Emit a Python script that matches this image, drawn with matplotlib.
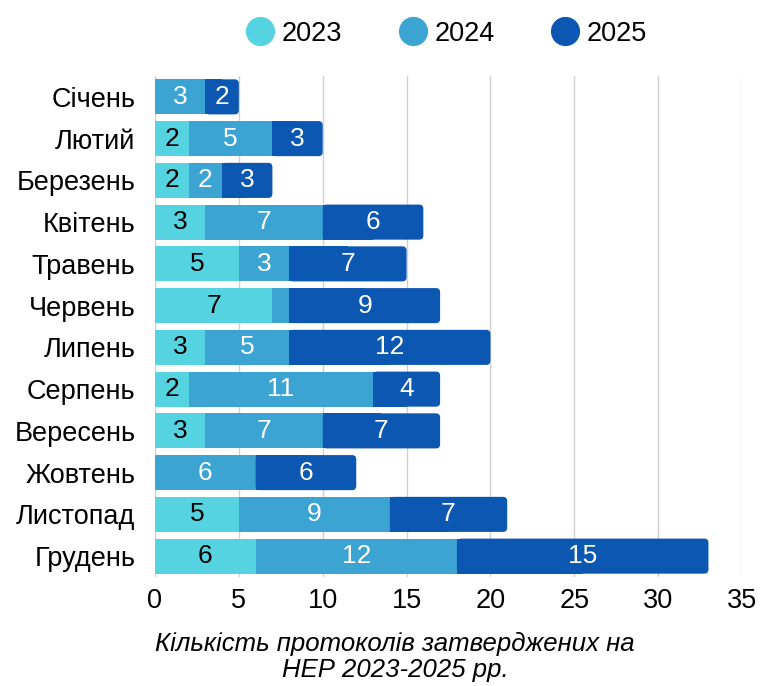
import matplotlib.pyplot as plt
from matplotlib.patches import FancyBboxPatch, Rectangle

months = ["Січень", "Лютий", "Березень", "Квітень", "Травень", "Червень",
          "Липень", "Серпень", "Вересень", "Жовтень", "Листопад", "Грудень"]
v2023 = [0, 2, 2, 3, 5, 7, 3, 2, 3, 0, 5, 6]
v2024 = [3, 5, 2, 7, 3, 1, 5, 11, 7, 6, 9, 12]
v2025 = [2, 3, 3, 6, 7, 9, 12, 4, 7, 6, 7, 15]
years = ["2023", "2024", "2025"]
colors = ["#56D3E0", "#3BA4D2", "#0C57B2"]
text_colors = ["black", "white", "white"]

plt.rcParams['font.family'] = ['Liberation Sans', 'DejaVu Sans']

fig = plt.figure(figsize=(7.6, 6.86), dpi=100)
ax = fig.add_axes([155 / 760, 1 - 577 / 686, (742 - 155) / 760, (577 - 76) / 686])

n = len(months)
ys = list(range(n))
h = 0.84
series = [v2023, v2024, v2025]

for i in range(n):
    left = 0
    for k, vals in enumerate(series):
        w = vals[i]
        if w == 0:
            continue
        if k == 2:
            # rounded right end
            r = 0.25
            ax.add_patch(FancyBboxPatch((left, i - h / 2), w, h,
                                        boxstyle="round,pad=0,rounding_size=%g" % r,
                                        mutation_aspect=0.40, fc=colors[k], ec="none", zorder=3))
            ax.add_patch(Rectangle((left, i - h / 2), w / 2, h, fc=colors[k], ec="none", zorder=3))
        else:
            ax.barh(i, w, left=left, height=h, color=colors[k], zorder=3)
        if w >= 2:
            ax.text(left + w / 2, i, str(w), ha="center", va="center",
                    color=text_colors[k], fontsize=19, zorder=4)
        left += w

ax.set_xlim(0, 35)
ax.set_ylim(n - 0.5, -0.5)
ax.set_yticks(ys)
ax.set_yticklabels(months, fontsize=19.5)
ax.set_xticks(range(0, 36, 5))
ax.tick_params(axis="x", labelsize=19.5, length=0, pad=8)
ax.tick_params(axis="y", length=0, pad=14)
for s in ax.spines.values():
    s.set_visible(False)
ax.grid(axis="x", color="#D0D0D0", lw=1, zorder=0)
ax.axvline(0, color="#B0B0B0", lw=1.2, zorder=1)

handles = [plt.Line2D([], [], marker="o", ls="none", markersize=20, color=c) for c in colors]
fig.legend(handles, years, loc="upper center", bbox_to_anchor=(0.588, 1.005), ncol=3,
           frameon=False, fontsize=19.5, handlelength=1.0, handletextpad=0.3,
           columnspacing=2.1)

fig.text(395 / 760, 1 - 657 / 686, "Кількість протоколів затверджених на\nНЕР 2023-2025 рр.",
         ha="center", va="center", fontsize=18.5, style="italic", linespacing=1.1)

fig.savefig("out.png", dpi=100)
